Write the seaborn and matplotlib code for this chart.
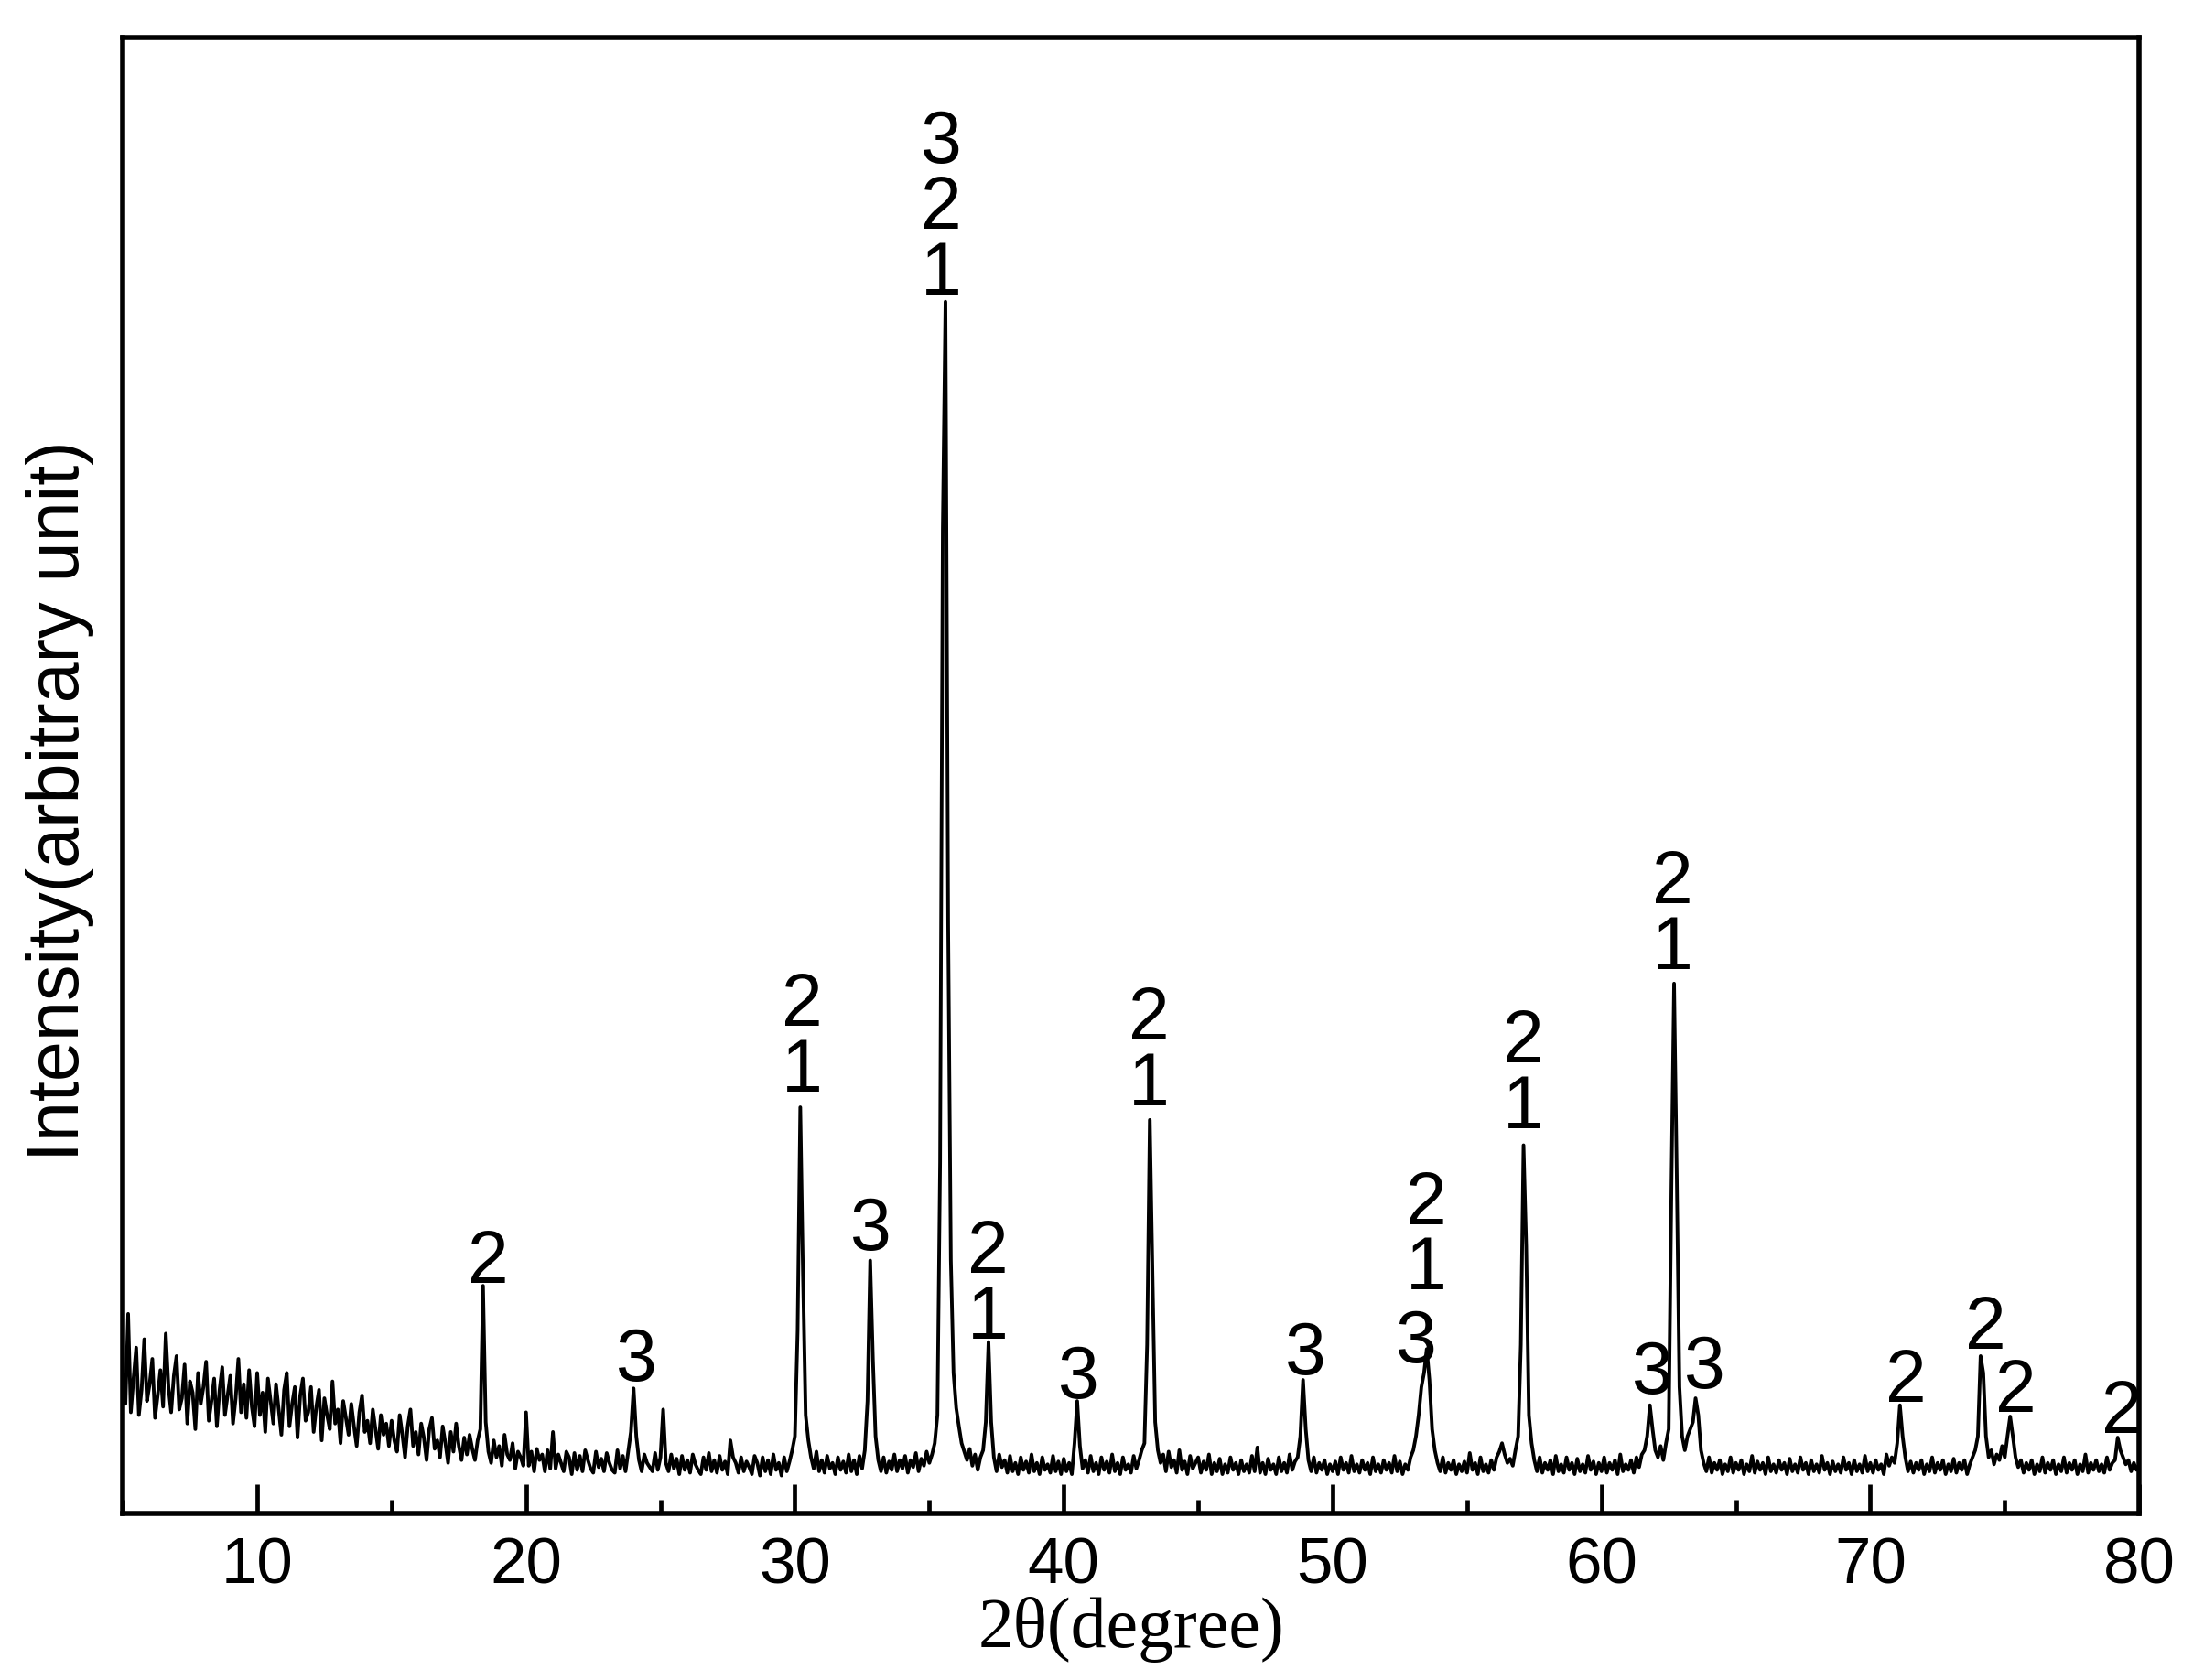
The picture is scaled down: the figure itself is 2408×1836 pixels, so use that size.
import numpy as np
import pandas as pd
import matplotlib
matplotlib.use("Agg")
import matplotlib.pyplot as plt
import seaborn as sns
from matplotlib.ticker import MultipleLocator

# XRD trace, 2-theta from 5.0 to 80.0 deg in 0.1 deg steps (intensity, arb. units)
intensity_05 = [100, 78, 142, 72, 96, 118, 70, 88, 124, 80,
                92, 110, 68, 84, 102, 76, 128, 90, 72, 98,
                112, 74, 82, 106, 64, 94, 86, 60, 100, 78,
                90, 108, 66, 80, 96, 62, 88, 104, 70, 84,
                98, 64, 82, 110, 72, 92, 68, 102, 76, 62]
intensity_10 = [100, 70, 86, 58, 96, 80, 64, 92, 74, 56,
                88, 100, 62, 78, 90, 54, 84, 96, 66, 72,
                90, 58, 76, 88, 52, 82, 70, 60, 94, 64,
                74, 50, 80, 68, 56, 78, 62, 48, 72, 84,
                58, 66, 50, 74, 60, 46, 70, 56, 64, 48]
intensity_15 = [66, 52, 44, 70, 56, 40, 62, 74, 48, 58,
                42, 64, 54, 38, 60, 68, 46, 52, 40, 62,
                50, 36, 58, 44, 64, 48, 38, 54, 42, 56,
                46, 38, 52, 60, 162, 65, 44, 36, 52, 40,
                48, 34, 56, 42, 38, 50, 32, 44, 40, 34]
intensity_20 = [72, 34, 44, 30, 46, 38, 42, 30, 45, 32,
                58, 32, 42, 36, 30, 44, 40, 28, 43, 31,
                41, 30, 45, 38, 32, 29, 44, 33, 39, 30,
                43, 36, 31, 29, 45, 32, 41, 30, 44, 58,
                89, 55, 38, 30, 42, 36, 33, 30, 43, 31]
intensity_25 = [40, 74, 36, 30, 42, 32, 39, 28, 41, 31,
                38, 29, 42, 35, 31, 28, 40, 31, 43, 30,
                38, 29, 41, 31, 37, 28, 52, 40, 36, 29,
                40, 30, 37, 33, 28, 41, 36, 27, 40, 30,
                38, 28, 42, 31, 36, 27, 40, 30, 37, 45]
intensity_30 = [55, 130, 289, 170, 70, 52, 40, 32, 44, 30,
                38, 29, 41, 32, 36, 28, 40, 31, 37, 29,
                42, 30, 38, 28, 41, 32, 45, 80, 180, 110,
                55, 38, 30, 40, 29, 37, 31, 42, 30, 38,
                32, 41, 29, 38, 33, 43, 30, 39, 34, 44]
intensity_35 = [36, 42, 50, 70, 250, 700, 862, 420, 180, 100,
                75, 62, 50, 44, 38, 46, 34, 42, 31, 40,
                45, 65, 122, 65, 40, 30, 42, 33, 38, 29,
                41, 30, 36, 28, 40, 31, 37, 29, 42, 30,
                36, 28, 40, 31, 35, 29, 41, 30, 37, 28]
intensity_40 = [39, 30, 36, 28, 50, 80, 48, 32, 38, 29,
                41, 30, 36, 28, 40, 31, 37, 29, 42, 30,
                36, 28, 40, 31, 35, 29, 41, 32, 38, 45,
                50, 120, 280, 170, 65, 45, 36, 42, 30, 44,
                33, 38, 29, 45, 31, 37, 28, 41, 32, 36]
intensity_45 = [40, 29, 37, 31, 42, 28, 36, 30, 39, 28,
                35, 29, 40, 31, 36, 28, 38, 30, 35, 29,
                41, 30, 47, 29, 36, 28, 39, 31, 35, 28,
                40, 30, 36, 29, 42, 31, 37, 40, 55, 95,
                60, 38, 30, 40, 29, 36, 31, 38, 28, 35]
intensity_50 = [30, 37, 28, 40, 31, 36, 29, 41, 30, 35,
                29, 38, 31, 36, 28, 40, 30, 35, 29, 38,
                31, 36, 29, 41, 30, 37, 28, 35, 31, 40,
                45, 55, 70, 90, 100, 117, 95, 60, 45, 36,
                30, 40, 29, 36, 31, 38, 28, 35, 30, 37]
intensity_55 = [29, 43, 31, 36, 28, 40, 30, 35, 29, 38,
                31, 40, 44, 50, 42, 36, 39, 34, 45, 55,
                120, 262, 190, 70, 50, 38, 30, 40, 29, 36,
                31, 38, 28, 41, 30, 35, 29, 40, 31, 36,
                28, 39, 30, 35, 29, 41, 31, 37, 28, 36]
intensity_60 = [30, 40, 29, 36, 31, 38, 28, 42, 30, 35,
                31, 38, 29, 40, 33, 42, 45, 55, 77, 60,
                45, 40, 48, 38, 50, 60, 230, 377, 240, 90,
                55, 45, 55, 60, 65, 82, 70, 45, 36, 30,
                40, 29, 36, 31, 38, 28, 35, 30, 40, 29]
intensity_65 = [36, 31, 38, 28, 35, 30, 41, 29, 37, 31,
                36, 28, 40, 30, 35, 29, 38, 31, 36, 28,
                39, 30, 35, 29, 40, 31, 36, 28, 38, 30,
                35, 29, 41, 31, 36, 28, 37, 30, 35, 29,
                40, 31, 36, 28, 38, 30, 35, 29, 41, 30]
intensity_70 = [36, 29, 38, 31, 35, 28, 42, 34, 40, 36,
                50, 77, 55, 40, 30, 37, 29, 36, 31, 38,
                28, 35, 30, 40, 29, 36, 31, 38, 28, 35,
                30, 39, 29, 36, 31, 38, 28, 35, 40, 45,
                55, 112, 100, 55, 40, 45, 35, 42, 38, 48]
intensity_75 = [40, 55, 69, 55, 40, 33, 38, 29, 36, 31,
                38, 28, 35, 30, 40, 29, 36, 31, 38, 28,
                35, 30, 40, 29, 36, 31, 38, 28, 35, 30,
                42, 29, 36, 31, 38, 30, 35, 29, 40, 31,
                36, 38, 54, 45, 40, 35, 38, 30, 36, 31]
intensity_80 = [35]

# phase labels above the peaks: (2-theta, intensity at label bottom, text)
label_theta = [18.6, 24.1, 30.26, 32.82, 35.44, 37.17, 40.56, 43.18, 48.99, 53.12,
               53.48, 57.09, 61.9, 62.64, 63.84, 71.32, 74.3, 75.4, 79.37]
label_height = [164, 94, 300, 187, 867, 124, 82, 290, 99, 107,
                159, 274, 85, 387, 89, 79, 117, 72, 57]
label_text = ["2", "3", "2\n1", "3", "3\n2\n1", "2\n1", "3", "2\n1", "3", "3",
              "2\n1", "2\n1", "3", "2\n1", "3", "2", "2", "2", "2"]

blocks = [intensity_05, intensity_10, intensity_15, intensity_20, intensity_25,
          intensity_30, intensity_35, intensity_40, intensity_45, intensity_50,
          intensity_55, intensity_60, intensity_65, intensity_70, intensity_75,
          intensity_80]
intensity = np.concatenate([np.array(b, dtype=float) for b in blocks])
two_theta = np.round(5.0 + 0.1 * np.arange(len(intensity)), 1)
df = pd.DataFrame({"two_theta": two_theta, "intensity": intensity})

sns.set_theme(style="ticks")
plt.rcParams["font.family"] = ["Liberation Sans", "DejaVu Sans"]
plt.rcParams["text.color"] = "black"
plt.rcParams["axes.labelcolor"] = "black"
plt.rcParams["xtick.color"] = "black"

fig = plt.figure(figsize=(24.08, 18.36), dpi=100)
ax = fig.add_axes([0.0557, 0.0991, 0.9149, 0.8786])

sns.lineplot(data=df, x="two_theta", y="intensity", ax=ax, color="black",
             linewidth=2.8, estimator=None, sort=False)

for x, y, t in zip(label_theta, label_height, label_text):
    ax.annotate(t, xy=(x, y), xytext=(0, -12), textcoords="offset points",
                ha="center", va="bottom", fontsize=58, color="black",
                linespacing=0.93)

ax.set_xlim(5, 80)
ax.set_ylim(0, 1050)
ax.xaxis.set_major_locator(MultipleLocator(10))
ax.xaxis.set_minor_locator(MultipleLocator(5))
ax.set_yticks([])
ax.tick_params(axis="x", which="major", direction="in", length=23, width=3.4,
               labelsize=51, pad=18, colors="black")
ax.tick_params(axis="x", which="minor", direction="in", length=11, width=3.4)
for side in ["left", "right", "top", "bottom"]:
    ax.spines[side].set_visible(True)
    ax.spines[side].set_linewidth(4)
    ax.spines[side].set_color("black")

ax.set_xlabel("2θ(degree)", fontsize=56, color="black",
              family=["Liberation Serif", "DejaVu Serif"], labelpad=0)
ax.set_ylabel("Intensity(arbitrary unit)", fontsize=57, color="black",
              family=["Liberation Sans Narrow", "Liberation Sans", "DejaVu Sans"])
ax.yaxis.set_label_coords(-0.014, 0.483)

fig.savefig("out.png", dpi=100, facecolor="white")
